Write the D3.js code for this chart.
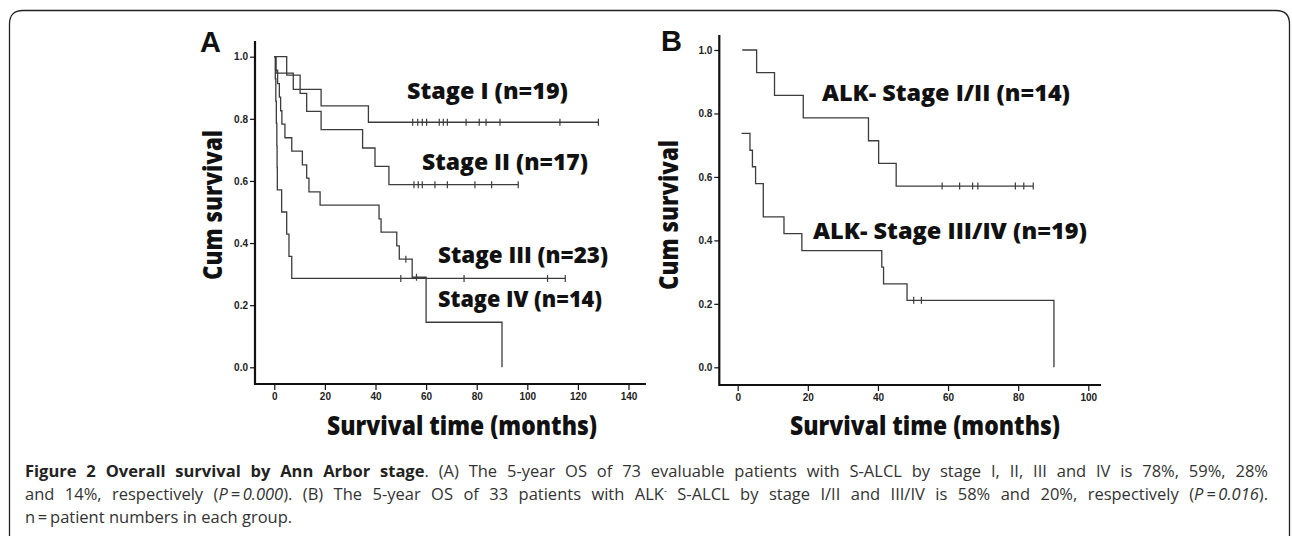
<!DOCTYPE html>
<html lang="en">
<head>
    <meta charset="UTF-8">
    <title>Figure 2 Overall survival by Ann Arbor stage</title>
    <script src="https://d3js.org/d3.v7.min.js"></script>
    <style>
        body { margin: 0; background: #ffffff; }
        svg { display: block; }
        .tick text { font-family: 'Liberation Sans', Arial, sans-serif; font-weight: bold; font-size: 10px; fill: #222; }
        .tick line { stroke: #111; stroke-width: 1.2; }
        .heavy { font-family: 'Open Sans', 'DejaVu Sans', sans-serif; font-weight: 800; fill: #111; }
        .caption { font-family: 'Open Sans', 'Noto Sans', sans-serif; font-size: 16.5px; fill: #333; }
    </style>
</head>
<body>
<svg id="fig" width="1292" height="536"></svg>
<script>
    // ---- data (months, cumulative survival) ----
    // Panel A
    const stageITime = [0, 0.7, 7.5, 18.5, 37.2];
    const stageISurv = [1.0, 0.947, 0.895, 0.842, 0.789];
    const stageICensor = [54.7, 56.7, 58.5, 60.2, 65.2, 66.8, 68.4, 75.8, 81.0, 83.7, 89.2, 112.9, 128.1];

    const stageIITime = [0, 4.9, 10.2, 12.8, 18.5, 34.9, 39.8, 45.3];
    const stageIISurv = [1.0, 0.941, 0.882, 0.824, 0.765, 0.706, 0.647, 0.588];
    const stageIICensor = [55.2, 56.9, 58.5, 63.5, 68.4, 79.3, 85.9, 96.4];

    const stageIIITime = [0, 0.5, 1.3, 2.0, 2.5, 3.0, 4.2, 6.9, 11.1, 12.8, 13.7, 18.1, 41.4, 42.2, 48.4, 49.4, 54.5, 60.0, 90.0];
    const stageIIISurv = [1.0, 0.957, 0.913, 0.870, 0.826, 0.783, 0.739, 0.696, 0.652, 0.609, 0.565, 0.522, 0.478, 0.435, 0.391, 0.348, 0.290, 0.145, 0];
    const stageIIICensor = [52.0, 56.2];

    const stageIVTime = [0, 0.4, 0.6, 0.8, 1.0, 1.1, 1.2, 2.9, 4.9, 5.8, 6.9];
    const stageIVSurv = [1.0, 0.929, 0.857, 0.786, 0.714, 0.643, 0.571, 0.5, 0.429, 0.357, 0.286];
    const stageIVCensor = [50.0, 75.0, 108.0, 115.0];

    // Panel B
    const alkEarlyTime = [1.3, 5.4, 10.5, 18.7, 37.3, 40.2, 45.2];
    const alkEarlySurv = [1.0, 0.929, 0.857, 0.786, 0.714, 0.643, 0.571];
    const alkEarlyCensor = [58.3, 63.3, 67.0, 68.5, 79.2, 81.6, 84.3];

    const alkLateTime = [1.1, 3.5, 4.2, 5.1, 7.3, 13.2, 18.3, 41.1, 41.6, 48.3, 90.2];
    const alkLateSurv = [0.737, 0.684, 0.632, 0.579, 0.474, 0.421, 0.368, 0.316, 0.263, 0.211, 0];
    const alkLateCensor = [50.2, 52.4];

    const survTicks = [0, 0.2, 0.4, 0.6, 0.8, 1.0];
    const monthTicksA = [0, 20, 40, 60, 80, 100, 120, 140];
    const monthTicksB = [0, 20, 40, 60, 80, 100];

    const labelsA = ['Stage I (n=19)', 'Stage II (n=17)', 'Stage III (n=23)', 'Stage IV (n=14)'];
    const labelsB = ['ALK- Stage I/II (n=14)', 'ALK- Stage III/IV (n=19)'];

    const svg = d3.select('#fig');

    // frame round the figure
    svg.append('path')
        .attr('d', 'M9.5,545 L9.5,24 Q9.5,10.5 23,10.5 L1276,10.5 Q1289.5,10.5 1289.5,24 L1289.5,545')
        .attr('fill', 'none')
        .attr('stroke', '#222')
        .attr('stroke-width', 1.3);

    // Kaplan-Meier step curve + censor ticks
    function drawCurve(g, x, y, times, surv, censor) {
        const pts = times.map((t, i) => [t, surv[i]]);
        const last = surv[surv.length - 1];
        const lastCensor = censor.length ? d3.max(censor) : times[times.length - 1];
        if (last > 0 && lastCensor > times[times.length - 1]) pts.push([lastCensor, last]);

        const line = d3.line()
            .x(d => x(d[0]))
            .y(d => y(d[1]))
            .curve(d3.curveStepAfter);

        g.append('path')
            .datum(pts)
            .attr('d', line)
            .attr('fill', 'none')
            .attr('stroke', '#3c3c3c')
            .attr('stroke-width', 1.3);

        // survival level at a given time
        const level = t => {
            let s = surv[0];
            times.forEach((tt, i) => { if (tt <= t) s = surv[i]; });
            return s;
        };
        g.selectAll(null)
            .data(censor)
            .enter()
            .append('line')
            .attr('x1', d => x(d))
            .attr('x2', d => x(d))
            .attr('y1', d => y(level(d)) - 3.5)
            .attr('y2', d => y(level(d)) + 3.5)
            .attr('stroke', '#3c3c3c')
            .attr('stroke-width', 1.2);
    }

    function drawAxes(g, x, y, axisX, axisTop, axisY, axisRight, xTicks) {
        g.append('g')
            .attr('transform', `translate(${axisX},0)`)
            .call(d3.axisLeft(y).tickValues(survTicks).tickFormat(d3.format('.1f')).tickSize(5).tickPadding(2))
            .call(a => a.select('.domain').remove());

        g.append('g')
            .attr('transform', `translate(0,${axisY})`)
            .call(d3.axisBottom(x).tickValues(xTicks).tickSize(6).tickPadding(3))
            .call(a => a.select('.domain').remove());

        g.append('path')
            .attr('d', `M${axisX},${axisTop} L${axisX},${axisY} L${axisRight},${axisY}`)
            .attr('fill', 'none')
            .attr('stroke', '#111')
            .attr('stroke-width', 2.2);
    }

    function heavyText(g, str, x, y, w, size, anchor) {
        return g.append('text')
            .attr('class', 'heavy')
            .attr('x', x)
            .attr('y', y)
            .attr('font-size', size)
            .attr('text-anchor', anchor || 'start')
            .attr('textLength', w)
            .attr('lengthAdjust', 'spacingAndGlyphs')
            .text(str);
    }

    // ---------- Panel A ----------
    const gA = svg.append('g');
    const xA = d3.scaleLinear().domain([0, 140]).range([274.3, 628.5]);
    const yA = d3.scaleLinear().domain([0, 1]).range([367.3, 56.7]);

    drawAxes(gA, xA, yA, 255, 41, 384, 646, monthTicksA);
    drawCurve(gA, xA, yA, stageITime, stageISurv, stageICensor);
    drawCurve(gA, xA, yA, stageIITime, stageIISurv, stageIICensor);
    drawCurve(gA, xA, yA, stageIIITime, stageIIISurv, stageIIICensor);
    drawCurve(gA, xA, yA, stageIVTime, stageIVSurv, stageIVCensor);

    gA.append('text').attr('x', 200).attr('y', 52)
        .attr('font-family', 'Liberation Sans, Arial, sans-serif').attr('font-weight', 'bold')
        .attr('font-size', 29).attr('fill', '#111').text('A');

    heavyText(gA, labelsA[0], 407, 99, 161, 23);
    heavyText(gA, labelsA[1], 422, 170, 166, 23);
    heavyText(gA, labelsA[2], 438, 263, 170, 23);
    heavyText(gA, labelsA[3], 438, 307, 164, 23);

    heavyText(gA, 'Survival time (months)', 462, 435, 270, 27, 'middle');
    heavyText(gA, 'Cum survival', 0, 0, 150, 27, 'middle')
        .attr('transform', 'translate(222,205) rotate(-90)');

    // ---------- Panel B ----------
    const gB = svg.append('g');
    const xB = d3.scaleLinear().domain([0, 100]).range([737.7, 1088.3]);
    const yB = d3.scaleLinear().domain([0, 1]).range([367.3, 50]);

    drawAxes(gB, xB, yB, 719.3, 35, 385, 1101, monthTicksB);
    drawCurve(gB, xB, yB, alkEarlyTime, alkEarlySurv, alkEarlyCensor);
    drawCurve(gB, xB, yB, alkLateTime, alkLateSurv, alkLateCensor);

    gB.append('text').attr('x', 661).attr('y', 51)
        .attr('font-family', 'Liberation Sans, Arial, sans-serif').attr('font-weight', 'bold')
        .attr('font-size', 29).attr('fill', '#111').text('B');

    heavyText(gB, labelsB[0], 822, 101, 248, 23);
    heavyText(gB, labelsB[1], 813, 239, 274, 23);

    heavyText(gB, 'Survival time (months)', 925, 435, 270, 27, 'middle');
    heavyText(gB, 'Cum survival', 0, 0, 150, 27, 'middle')
        .attr('transform', 'translate(678,215) rotate(-90)');

    // ---------- Caption ----------
    const cap = svg.append('g').attr('class', 'caption');
    const capLeft = 25, capRight = 1268;

    const l1 = cap.append('text').attr('x', capLeft).attr('y', 477);
    l1.append('tspan').attr('font-weight', 'bold').attr('fill', '#222').text('Figure 2 Overall survival by Ann Arbor stage');
    l1.append('tspan').text('. (A) The 5-year OS of 73 evaluable patients with S-ALCL by stage I, II, III and IV is 78%, 59%, 28%');

    const l2 = cap.append('text').attr('x', capLeft).attr('y', 500);
    l2.append('tspan').text('and 14%, respectively (');
    l2.append('tspan').attr('font-style', 'italic').text('P\u2009=\u20090.000');
    l2.append('tspan').text('). (B) The 5-year OS of 33 patients with ALK');
    l2.append('tspan').attr('font-size', 9).attr('dy', -6).text('-');
    l2.append('tspan').attr('dy', 6).text(' S-ALCL by stage I/II and III/IV is 58% and 20%, respectively (');
    l2.append('tspan').attr('font-style', 'italic').text('P\u2009=\u20090.016');
    l2.append('tspan').text(').');

    cap.append('text').attr('x', capLeft).attr('y', 523).text('n\u2009=\u2009patient numbers in each group.');

    // justify the first two lines like the printed caption
    [l1, l2].forEach(t => {
        const node = t.node();
        const w = node.getComputedTextLength();
        const spaces = (node.textContent.match(/ /g) || []).length;
        if (spaces) t.attr('word-spacing', (capRight - capLeft - w) / spaces);
    });
</script>
</body>
</html>
